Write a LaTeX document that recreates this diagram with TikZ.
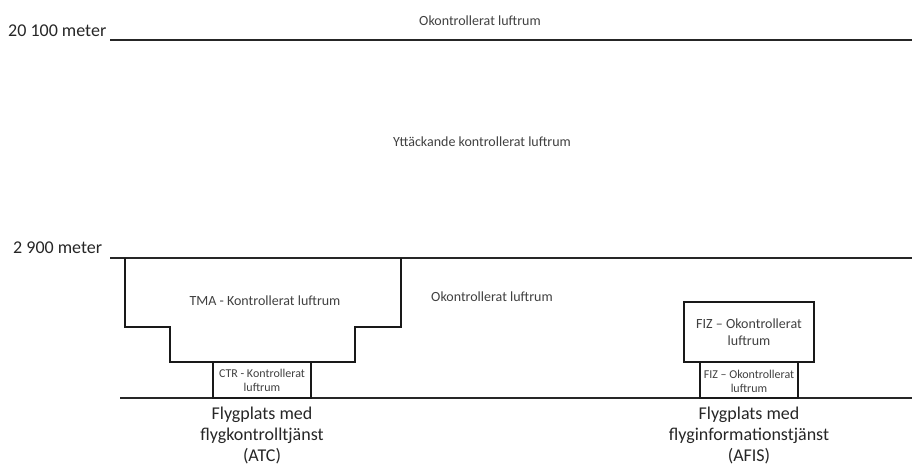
\documentclass[tikz,border=0pt]{standalone}
\usepackage{fontspec}
\setmainfont{Carlito}
\begin{document}
\begin{tikzpicture}[x=1pt,y=-1pt,
  lvl/.style={draw=black!85,line width=1.6pt},
  zone/.style={draw=black!90,line width=1.8pt},
  big/.style={font=\fontsize{18}{21}\selectfont,text=black!85,inner sep=0pt,align=center},
  small/.style={font=\fontsize{14}{17}\selectfont,text=black!75,inner sep=0pt,align=center},
  tiny/.style={font=\fontsize{12}{14}\selectfont,text=black!75,inner sep=0pt,align=center}]
\useasboundingbox (0,0) rectangle (912,465);
% levels
\coordinate (topL) at (110,40);
\coordinate (topR) at (912,40);
\coordinate (midL) at (110,258);
\coordinate (midR) at (912,258);
\coordinate (gndL) at (120,398);
\coordinate (gndR) at (912,398);
\draw[lvl] (topL) -- (topR);
\draw[lvl] (midL) -- (midR);
\draw[lvl] (gndL) -- (gndR);
% TMA
\draw[zone] (125,258) -- (125,327) -- (170,327) -- (170,362) -- (355,362) -- (355,327) -- (401,327) -- (401,258);
% CTR
\draw[zone] (213,362) rectangle (311,398);
% FIZ
\draw[zone] (684,302) rectangle (814,362);
\draw[zone] (700,362) rectangle (798,398);
% labels
\node[big,anchor=base west] (h1) at (8,37) {20 100 meter};
\node[big,anchor=base west] (h2) at (13,253) {2 900 meter};
\node[small,anchor=base] (ok1) at (480,26) {Okontrollerat luftrum};
\node[small,anchor=base] (ytt) at (482,147) {Yttäckande kontrollerat luftrum};
\node[small,anchor=base] (ok2) at (492,301) {Okontrollerat luftrum};
\node[small,anchor=base] (tma) at (265,305) {TMA - Kontrollerat luftrum};
\node[tiny] (ctr) at (262,380) {CTR - Kontrollerat\\luftrum};
\node[small] (fiz1) at (749,332) {FIZ – Okontrollerat\\luftrum};
\node[tiny] (fiz2) at (749,381) {FIZ – Okontrollerat\\luftrum};
\node[big] (atc) at (262,435) {Flygplats med\\flygkontrolltjänst\\(ATC)};
\node[big] (afis) at (749,435) {Flygplats med\\flyginformationstjänst\\(AFIS)};
\end{tikzpicture}
\end{document}
